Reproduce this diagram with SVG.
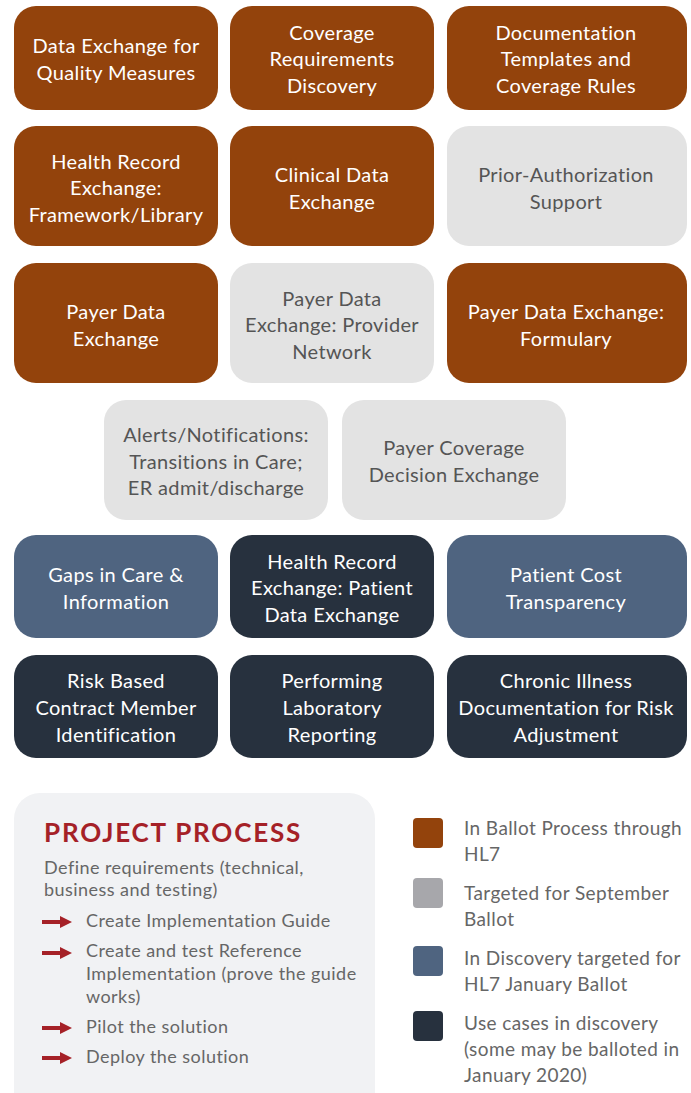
<svg xmlns="http://www.w3.org/2000/svg" width="691" height="1093" viewBox="0 0 691 1093">
<style>
.b{fill:#93430C}.g{fill:#E3E3E3}.s{fill:#4F6480}.d{fill:#27313E}
text{font-family:Lato,"Open Sans","Liberation Sans",sans-serif}
.t{font-size:20px;letter-spacing:0.35px;text-anchor:middle;fill:#fff}
.tg{font-size:20px;letter-spacing:0.35px;text-anchor:middle;fill:#555}
.p{font-size:18px;letter-spacing:0.45px;fill:#666}
.l{font-size:19px;letter-spacing:0.4px;fill:#666}
.h{font-size:26px;letter-spacing:1.8px;font-weight:bold;fill:#A52127}
</style>
<defs>
<g id="arr"><rect x="0" y="-2" width="20" height="4" fill="#A52127"/><path d="M18,-6 L30,0 L18,6 Z" fill="#A52127"/></g>
</defs>
<rect width="691" height="1093" fill="#fff"/>
<g id="n1"><rect class="b" x="14" y="6" width="204" height="104" rx="22"/><text class="t" x="116" y="53">Data Exchange for</text><text class="t" x="116" y="80">Quality Measures</text></g>
<g id="n2"><rect class="b" x="230" y="6" width="204" height="104" rx="22"/><text class="t" x="332" y="40">Coverage</text><text class="t" x="332" y="66">Requirements</text><text class="t" x="332" y="93">Discovery</text></g>
<g id="n3"><rect class="b" x="447" y="6" width="240" height="104" rx="22"/><text class="t" x="566" y="40">Documentation</text><text class="t" x="566" y="66">Templates and</text><text class="t" x="566" y="93">Coverage Rules</text></g>
<g id="n4"><rect class="b" x="14" y="126" width="204" height="120" rx="22"/><text class="t" x="116" y="169">Health Record</text><text class="t" x="116" y="195">Exchange:</text><text class="t" x="116" y="222">Framework/Library</text></g>
<g id="n5"><rect class="b" x="230" y="126" width="204" height="120" rx="22"/><text class="t" x="332" y="182">Clinical Data</text><text class="t" x="332" y="209">Exchange</text></g>
<g id="n6"><rect class="g" x="447" y="126" width="240" height="120" rx="22"/><text class="tg" x="566" y="182">Prior-Authorization</text><text class="tg" x="566" y="209">Support</text></g>
<g id="n7"><rect class="b" x="14" y="263" width="204" height="120" rx="22"/><text class="t" x="116" y="319">Payer Data</text><text class="t" x="116" y="346">Exchange</text></g>
<g id="n8"><rect class="g" x="230" y="263" width="204" height="120" rx="22"/><text class="tg" x="332" y="306">Payer Data</text><text class="tg" x="332" y="332">Exchange: Provider</text><text class="tg" x="332" y="359">Network</text></g>
<g id="n9"><rect class="b" x="447" y="263" width="240" height="120" rx="22"/><text class="t" x="566" y="319">Payer Data Exchange:</text><text class="t" x="566" y="346">Formulary</text></g>
<g id="n10"><rect class="g" x="104" y="400" width="224" height="120" rx="22"/><text class="tg" x="216" y="442">Alerts/Notifications:</text><text class="tg" x="216" y="469">Transitions in Care;</text><text class="tg" x="216" y="495">ER admit/discharge</text></g>
<g id="n11"><rect class="g" x="342" y="400" width="224" height="120" rx="22"/><text class="tg" x="454" y="455">Payer Coverage</text><text class="tg" x="454" y="482">Decision Exchange</text></g>
<g id="n12"><rect class="s" x="14" y="535" width="204" height="103" rx="22"/><text class="t" x="116" y="582">Gaps in Care &amp;</text><text class="t" x="116" y="609">Information</text></g>
<g id="n13"><rect class="d" x="230" y="535" width="204" height="103" rx="22"/><text class="t" x="332" y="569">Health Record</text><text class="t" x="332" y="595">Exchange: Patient</text><text class="t" x="332" y="622">Data Exchange</text></g>
<g id="n14"><rect class="s" x="447" y="535" width="240" height="103" rx="22"/><text class="t" x="566" y="582">Patient Cost</text><text class="t" x="566" y="609">Transparency</text></g>
<g id="n15"><rect class="d" x="14" y="655" width="204" height="103" rx="22"/><text class="t" x="116" y="688">Risk Based</text><text class="t" x="116" y="715">Contract Member</text><text class="t" x="116" y="742">Identification</text></g>
<g id="n16"><rect class="d" x="230" y="655" width="204" height="103" rx="22"/><text class="t" x="332" y="688">Performing</text><text class="t" x="332" y="715">Laboratory</text><text class="t" x="332" y="742">Reporting</text></g>
<g id="n17"><rect class="d" x="447" y="655" width="240" height="103" rx="22"/><text class="t" x="566" y="688">Chronic Illness</text><text class="t" x="566" y="715">Documentation for Risk</text><text class="t" x="566" y="742">Adjustment</text></g>
<g id="process">
<rect x="14" y="793" width="361" height="330" rx="26" fill="#F1F2F4"/>
<text class="h" x="44" y="842">PROJECT PROCESS</text>
<text class="p" x="44" y="874">Define requirements (technical,</text>
<text class="p" x="44" y="896">business and testing)</text>
<use href="#arr" x="42" y="922"/><text class="p" x="86" y="927">Create Implementation Guide</text>
<use href="#arr" x="42" y="953"/><text class="p" x="86" y="957">Create and test Reference</text>
<text class="p" x="86" y="980">Implementation (prove the guide</text>
<text class="p" x="86" y="1003">works)</text>
<use href="#arr" x="42" y="1028"/><text class="p" x="86" y="1033">Pilot the solution</text>
<use href="#arr" x="42" y="1058"/><text class="p" x="86" y="1063">Deploy the solution</text>
</g>
<g id="legend">
<rect x="413" y="818" width="30" height="30" rx="4" fill="#93430C"/>
<text class="l" x="464" y="835">In Ballot Process through</text><text class="l" x="464" y="861">HL7</text>
<rect x="413" y="878" width="30" height="30" rx="4" fill="#A7A7AB"/>
<text class="l" x="464" y="900">Targeted for September</text><text class="l" x="464" y="926">Ballot</text>
<rect x="413" y="946" width="30" height="30" rx="4" fill="#4F6480"/>
<text class="l" x="464" y="965">In Discovery targeted for</text><text class="l" x="464" y="991">HL7 January Ballot</text>
<rect x="413" y="1011" width="30" height="30" rx="4" fill="#27313E"/>
<text class="l" x="464" y="1030">Use cases in discovery</text><text class="l" x="464" y="1056">(some may be balloted in</text><text class="l" x="464" y="1082">January 2020)</text>
</g>
</svg>
